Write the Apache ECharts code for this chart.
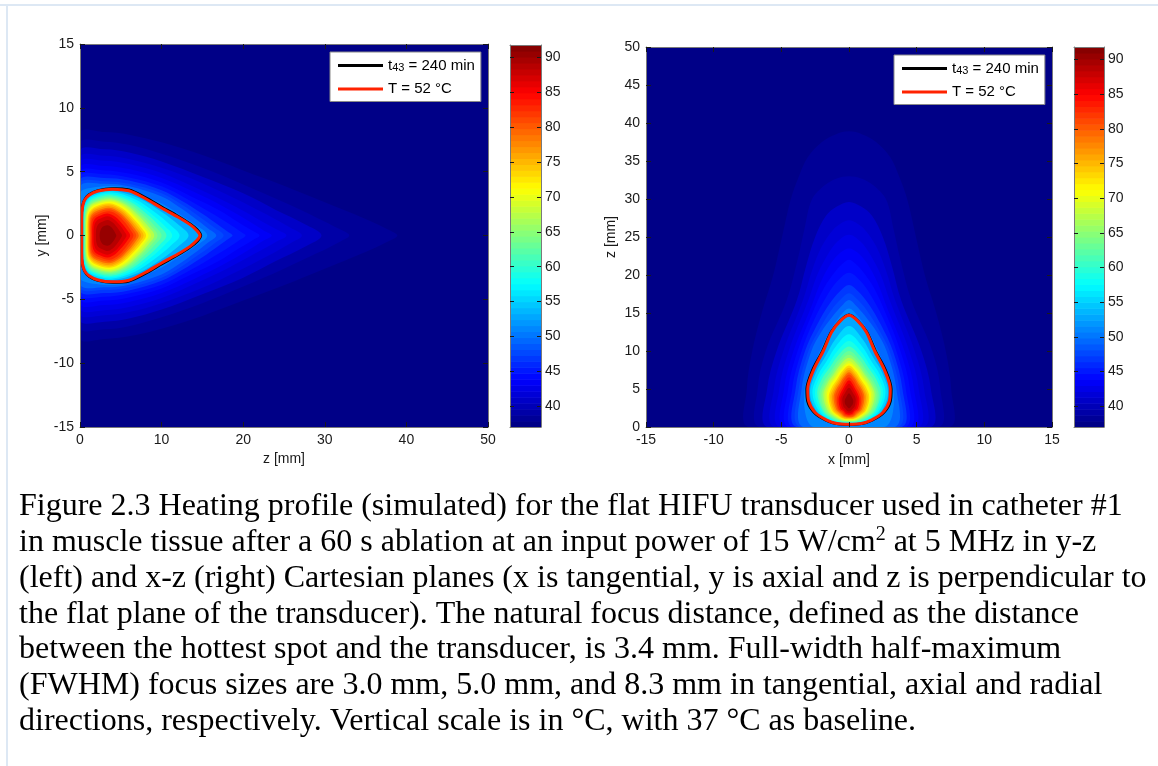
<!DOCTYPE html>
<html><head><meta charset="utf-8">
<script src="https://cdn.jsdelivr.net/npm/echarts@6/dist/echarts.min.js"></script>
<style>
html,body{margin:0;padding:0;background:#fff;}
#chart{position:absolute;left:0;top:0;width:1158px;height:766px;}
#bt{position:absolute;left:0;top:4px;width:1158px;height:2px;background:#dde8f4;}
#bl{position:absolute;left:6px;top:4px;width:2px;height:762px;background:#dde8f4;}
</style></head><body>
<div id="chart"></div>
<div id="bt"></div><div id="bl"></div>
<script>
// ---- colour scale (degrees C) ----
const colorMin = 37, colorMax = 91.8;
const colorTicks = [40, 45, 50, 55, 60, 65, 70, 75, 80, 85, 90];
// ---- isotherm levels (deg C) used for the filled contour plot ----
const levels = [38, 39, 40, 41, 42, 43, 44, 45, 46, 47, 48, 50, 52, 54, 56, 58, 60, 62, 64, 66, 68, 70, 72, 74, 76, 78, 80, 82, 84, 86, 88, 90];

// ---- contour lines, half contours [z, |offset|] in mm (fields are symmetric) ----
const leftRed    = [[0.22,0],[0.22,1.4],[0.3,2.2],[0.55,2.75],[1.1,3.15],[2.2,3.48],[4,3.63],[6,3.5],[8,2.9],[10,2.15],[12,1.45],[13.5,0.85],[14.3,0.4],[14.7,0]];
const leftBlack  = [[0.2,0],[0.2,1.4],[0.28,2.2],[0.53,2.78],[1.1,3.2],[2.2,3.53],[4,3.69],[6,3.58],[8,2.99],[10,2.25],[12,1.53],[13.5,0.92],[14.4,0.44],[14.82,0]];
const rightRed   = [[0.35,0],[0.45,0.9],[0.9,1.65],[1.9,2.5],[3.4,2.98],[5,3.05],[7.5,2.62],[10,1.9],[12.5,1.28],[14,0.62],[14.7,0]];
const rightBlack = [[0.33,0],[0.44,0.93],[0.88,1.7],[1.9,2.57],[3.4,3.07],[5,3.13],[7.5,2.7],[10,1.96],[12.5,1.32],[14,0.65],[14.76,0]];

// ---- y-z plane (left): half isotherms [z, y] for each level ----
const leftIso = [
  [[0,8.0],[3,8.1],[6,7.9],[10,7.3],[15,6.3],[20,5.1],[25,3.9],[30,2.6],[35,1.3],[38,0.4],[38.9,0]],
  [[0,7.2],[3,7.35],[6,7.1],[10,6.4],[15,5.3],[20,4.0],[25,2.6],[29,1.4],[31.8,0.5],[33,0]],
  [[0,6.6],[3,6.75],[6,6.5],[10,5.8],[15,4.6],[20,3.3],[24,2.0],[27.5,0.9],[29.6,0]],
  [[0,6.1],[3,6.25],[6,6.0],[10,5.3],[15,4.1],[19,2.9],[23,1.6],[25.8,0.6],[27.2,0]],
  [[0,5.7],[3,5.85],[6,5.6],[10,4.9],[14,3.8],[18,2.6],[21.5,1.4],[24,0.5],[25.3,0]],
  [[0,5.3],[3,5.45],[6,5.2],[10,4.5],[14,3.4],[17.5,2.3],[20.5,1.2],[22.5,0.4],[23.5,0]],
  [[0,4.95],[3,5.1],[6,4.85],[10,4.15],[13.5,3.1],[17,2.0],[19.5,1.0],[21.2,0.35],[22,0]],
  [[0,4.6],[3,4.8],[6,4.55],[10,3.85],[13,2.9],[16,1.8],[18.3,0.9],[19.7,0.3],[20.3,0]],
  [[0,4.3],[3,4.5],[6,4.3],[10,3.55],[12.5,2.7],[15,1.7],[17,0.8],[18.2,0.25],[18.7,0]],
  [[0,4.05],[3,4.25],[6,4.05],[10,3.3],[12.5,2.4],[14.8,1.4],[16.5,0.6],[17.6,0]],
  [[0,3.8],[3,4.05],[6,3.85],[10,3.05],[12,2.3],[14,1.4],[15.7,0.55],[16.7,0]],
  [[0,3.3],[0.5,3.6],[2,3.8],[4,3.88],[6,3.7],[8,3.1],[10,2.5],[12,1.75],[14,0.9],[15.6,0]],
  leftRed,
  [[0.3,0],[0.34,1.93],[0.65,2.66],[1.4,3.15],[3.8,3.5],[7.13,2.94],[9.98,1.86],[12.07,0.84],[13.3,0]],
  [[0.38,0],[0.42,1.86],[0.72,2.57],[1.45,3.04],[3.8,3.38],[6.74,2.84],[9.26,1.79],[11.11,0.81],[12.2,0]],
  [[0.45,0],[0.49,1.79],[0.78,2.48],[1.5,2.93],[3.8,3.26],[6.43,2.74],[8.68,1.73],[10.33,0.78],[11.3,0]],
  [[0.5,0],[0.54,1.73],[0.83,2.39],[1.55,2.84],[3.8,3.15],[6.18,2.65],[8.22,1.67],[9.72,0.76],[10.6,0]],
  [[0.57,0],[0.61,1.67],[0.9,2.31],[1.6,2.74],[3.8,3.04],[5.97,2.55],[7.83,1.61],[9.19,0.73],[10,0]],
  [[0.63,0],[0.67,1.62],[0.96,2.23],[1.66,2.65],[3.8,2.94],[5.8,2.47],[7.51,1.56],[8.76,0.71],[9.5,0]],
  [[0.7,0],[0.74,1.56],[1.03,2.16],[1.73,2.56],[3.8,2.84],[5.66,2.39],[7.25,1.51],[8.41,0.68],[9.1,0]],
  [[0.76,0],[0.8,1.51],[1.09,2.08],[1.79,2.47],[3.8,2.74],[5.52,2.3],[6.99,1.45],[8.06,0.66],[8.7,0]],
  [[0.83,0],[0.87,1.45],[1.16,2.01],[1.86,2.38],[3.8,2.64],[5.41,2.22],[6.79,1.4],[7.8,0.63],[8.4,0]],
  [[0.9,0],[0.94,1.39],[1.23,1.92],[1.93,2.28],[3.6,2.53],[5.18,2.13],[6.53,1.34],[7.52,0.61],[8.1,0]],
  [[0.97,0],[1.01,1.33],[1.3,1.84],[2.0,2.18],[3.6,2.42],[5.07,2.03],[6.33,1.28],[7.25,0.58],[7.8,0]],
  [[1.05,0],[1.09,1.27],[1.38,1.75],[2.08,2.07],[3.6,2.3],[4.97,1.93],[6.14,1.22],[6.99,0.55],[7.5,0]],
  [[1.14,0],[1.18,1.2],[1.47,1.66],[2.17,1.96],[3.6,2.18],[4.86,1.83],[5.94,1.16],[6.73,0.52],[7.2,0]],
  [[1.24,0],[1.28,1.13],[1.57,1.56],[2.27,1.85],[3.6,2.05],[4.76,1.72],[5.75,1.09],[6.47,0.49],[6.9,0]],
  [[1.36,0],[1.4,1.05],[1.69,1.44],[2.39,1.71],[3.6,1.9],[4.63,1.6],[5.52,1.01],[6.17,0.46],[6.55,0]],
  [[1.5,0],[1.55,0.9],[1.83,1.31],[2.43,1.55],[3.4,1.72],[4.36,1.44],[5.19,0.91],[5.79,0.41],[6.15,0]],
  [[1.68,0],[1.74,0.75],[2.03,1.14],[2.58,1.35],[3.4,1.5],[4.2,1.26],[4.9,0.8],[5.4,0.36],[5.7,0]],
  [[1.95,0],[2.02,0.58],[2.3,0.93],[2.8,1.1],[3.4,1.22],[4.01,1.02],[4.54,0.65],[4.92,0.29],[5.15,0]],
  [[2.4,0],[2.5,0.4],[2.75,0.66],[3.05,0.77],[3.4,0.8],[3.77,0.68],[4.08,0.45],[4.32,0.2],[4.45,0]]
];

// ---- x-z plane (right): half isotherms [z, x] for each level ----
const rightIso = [
  [[0,7.4],[5,7.55],[10,7.15],[15,6.45],[20,5.6],[25,4.95],[30,4.3],[33,3.7],[35.5,3.05],[37.5,2.0],[38.5,1.0],[38.9,0]],
  [[0,6.6],[5,6.75],[10,6.15],[16.7,4.6],[22,3.8],[26,3.3],[29.9,2.75],[31.8,1.8],[32.7,0.9],[33.0,0]],
  [[0,6.0],[5,6.05],[10,5.35],[16.7,3.85],[21,3.2],[25,2.5],[27.8,1.7],[29,0.9],[29.6,0]],
  [[0,5.5],[5,5.55],[10,4.85],[16.7,3.4],[20.5,2.75],[23.8,2.0],[25.9,1.2],[26.9,0.5],[27.2,0]],
  [[0,5.1],[5,5.15],[10,4.45],[16.7,3.0],[20,2.35],[22.6,1.6],[24.4,0.85],[25.3,0]],
  [[0,4.75],[5,4.8],[10,4.1],[16,2.75],[19,2.1],[21.5,1.35],[23,0.6],[23.5,0]],
  [[0,4.45],[5,4.5],[10,3.8],[15,2.7],[18.3,1.85],[20.5,1.0],[21.6,0.4],[22,0]],
  [[0,4.15],[5,4.2],[10,3.5],[14,2.6],[17.2,1.65],[19.2,0.85],[20.3,0]],
  [[0,3.9],[5,3.95],[10,3.25],[13.5,2.35],[16.2,1.45],[17.9,0.65],[18.7,0]],
  [[0,3.65],[5,3.72],[10,3.0],[13,2.15],[15.4,1.3],[16.9,0.55],[17.6,0]],
  [[0,3.4],[5,3.5],[10,2.78],[12.5,2.05],[14.7,1.15],[16.1,0.45],[16.7,0]],
  [[0,2.6],[0.6,3.0],[2,3.25],[4,3.32],[6,3.15],[8,2.6],[10,2.15],[12.5,1.45],[14.5,0.7],[15.6,0]],
  rightRed,
  [[0.42,0],[0.52,0.86],[0.92,1.58],[2.05,2.39],[4.5,2.88],[7.14,2.45],[9.34,1.73],[11.54,1.01],[13.3,0]],
  [[0.5,0],[0.6,0.81],[1.0,1.49],[2.1,2.24],[4.5,2.7],[6.81,2.3],[8.74,1.62],[10.66,0.95],[12.2,0]],
  [[0.56,0],[0.66,0.76],[1.06,1.39],[2.14,2.09],[4.5,2.52],[6.54,2.14],[8.24,1.51],[9.94,0.88],[11.3,0]],
  [[0.62,0],[0.72,0.71],[1.12,1.29],[2.17,1.95],[4.5,2.35],[6.33,2.0],[7.86,1.41],[9.38,0.82],[10.6,0]],
  [[0.68,0],[0.78,0.66],[1.18,1.21],[2.09,1.83],[4.2,2.2],[5.94,1.87],[7.39,1.32],[8.84,0.77],[10,0]],
  [[0.74,0],[0.84,0.62],[1.24,1.13],[2.12,1.7],[4.2,2.05],[5.79,1.74],[7.12,1.23],[8.44,0.72],[9.5,0]],
  [[0.8,0],[0.9,0.57],[1.3,1.05],[2.16,1.58],[4.2,1.9],[5.67,1.62],[6.9,1.14],[8.12,0.67],[9.1,0]],
  [[0.87,0],[0.97,0.53],[1.37,0.97],[2.2,1.46],[4.2,1.76],[5.55,1.5],[6.68,1.06],[7.8,0.62],[8.7,0]],
  [[0.94,0],[1.04,0.49],[1.44,0.9],[2.24,1.35],[4.2,1.63],[5.46,1.39],[6.51,0.98],[7.56,0.57],[8.4,0]],
  [[1.01,0],[1.11,0.45],[1.51,0.83],[2.17,1.25],[3.9,1.5],[5.16,1.28],[6.21,0.9],[7.26,0.53],[8.1,0]],
  [[1.09,0],[1.19,0.41],[1.59,0.76],[2.21,1.15],[3.9,1.38],[5.07,1.17],[6.05,0.83],[7.02,0.48],[7.8,0]],
  [[1.17,0],[1.27,0.38],[1.67,0.69],[2.26,1.05],[3.9,1.26],[4.98,1.07],[5.88,0.76],[6.78,0.44],[7.5,0]],
  [[1.26,0],[1.36,0.34],[1.76,0.63],[2.32,0.95],[3.9,1.14],[4.89,0.97],[5.72,0.68],[6.54,0.4],[7.2,0]],
  [[1.36,0],[1.46,0.31],[1.86,0.56],[2.38,0.85],[3.9,1.02],[4.8,0.87],[5.55,0.61],[6.3,0.36],[6.9,0]],
  [[1.48,0],[1.58,0.27],[1.98,0.5],[2.33,0.75],[3.6,0.9],[4.49,0.77],[5.22,0.54],[5.96,0.32],[6.55,0]],
  [[1.62,0],[1.72,0.23],[2.1,0.42],[2.41,0.64],[3.6,0.77],[4.37,0.65],[5.0,0.46],[5.64,0.27],[6.15,0]],
  [[1.8,0],[1.9,0.19],[2.2,0.35],[2.52,0.53],[3.6,0.64],[4.23,0.54],[4.76,0.38],[5.28,0.22],[5.7,0]],
  [[2.05,0],[2.15,0.15],[2.4,0.27],[2.67,0.41],[3.6,0.5],[4.07,0.43],[4.45,0.3],[4.84,0.18],[5.15,0]],
  [[2.45,0],[2.55,0.1],[2.75,0.18],[2.95,0.27],[3.4,0.32],[3.72,0.27],[3.98,0.19],[4.24,0.11],[4.45,0]]
];

const captionLines = [
  'Figure 2.3 Heating profile (simulated) for the flat HIFU transducer used in catheter #1',
  ['in muscle tissue after a 60 s ablation at an input power of 15 W/cm', '2', ' at 5 MHz in y-z'],
  '(left) and x-z (right) Cartesian planes (x is tangential, y is axial and z is perpendicular to',
  'the flat plane of the transducer). The natural focus distance, defined as the distance',
  'between the hottest spot and the transducer, is 3.4 mm. Full-width half-maximum',
  '(FWHM) focus sizes are 3.0 mm, 5.0 mm, and 8.3 mm in tangential, axial and radial',
  'directions, respectively. Vertical scale is in °C, with 37 °C as baseline.'
];

const NAME_T43 = 't43 = 240 min', NAME_T52 = 'T = 52 °C';
const FONT = '"Liberation Sans", Arial, sans-serif';

// jet colormap (64 steps)
function jet(v) {
  let t = (v - colorMin) / (colorMax - colorMin);
  t = Math.max(0, Math.min(1, t));
  const idx = Math.min(63, Math.floor(t * 64));
  t = (idx + 0.5) / 64;
  const c = x => Math.round(255 * Math.max(0, Math.min(1, x)));
  const r = c(Math.min(4 * t - 1.5, -4 * t + 4.5));
  const g = c(Math.min(4 * t - 0.5, -4 * t + 3.5));
  const b = c(Math.min(4 * t + 0.5, -4 * t + 2.5));
  return 'rgb(' + r + ',' + g + ',' + b + ')';
}
function fillValue(i) {
  if (i < 0) return (colorMin + levels[0]) / 2;
  const next = i < levels.length - 1 ? levels[i + 1] : colorMax;
  return (levels[i] + next) / 2;
}
// full closed loop from a symmetric half contour
function loop(half) {
  const other = half.filter(p => p[1] !== 0).reverse().map(p => [p[0], -p[1]]);
  return half.concat(other);
}
function closedLine(half, swap) {
  const pts = loop(half);
  pts.push(pts[0]);
  return pts.map(p => swap ? [p[1], p[0]] : [p[0], p[1]]);
}
function fillSeries(iso, swap, xi, yi, ext) {
  const data = [-1].concat(levels.map((l, i) => i)).map(i => ({ value: [0, 0, i] }));
  return {
    type: 'custom', xAxisIndex: xi, yAxisIndex: yi, clip: true, silent: true, z: 1,
    data: data,
    renderItem: function (params, api) {
      const i = data[params.dataIndex].value[2];
      let pts;
      if (i < 0) {
        pts = [[ext[0], ext[2]], [ext[1], ext[2]], [ext[1], ext[3]], [ext[0], ext[3]]].map(p => api.coord(p));
        return { type: 'polygon', shape: { points: pts }, style: { fill: jet(fillValue(i)) } };
      }
      pts = loop(iso[i]).map(p => api.coord(swap ? [p[1], p[0]] : [p[0], p[1]]));
      return { type: 'polygon', shape: { points: pts, smooth: 0.35 }, style: { fill: jet(fillValue(i)) } };
    }
  };
}
function colorbarSeries(xi, yi) {
  const n = 64, step = (colorMax - colorMin) / n;
  const data = [];
  for (let k = 0; k < n; k++) data.push({ value: [0, colorMin + k * step] });
  return {
    type: 'custom', xAxisIndex: xi, yAxisIndex: yi, silent: true, z: 1, clip: true,
    data: data,
    renderItem: function (params, api) {
      const v0 = colorMin + params.dataIndex * step;
      const p0 = api.coord([0, v0]);
      const p1 = api.coord([1, v0 + step]);
      return { type: 'rect', shape: { x: p0[0], y: p1[1], width: p1[0] - p0[0], height: p0[1] - p1[1] + 0.6 },
               style: { fill: jet(v0 + step / 2) } };
    }
  };
}
function lineSeries(name, half, swap, xi, yi, color, width, z) {
  return {
    type: 'line', name: name, xAxisIndex: xi, yAxisIndex: yi, data: closedLine(half, swap),
    smooth: 0.3, symbol: 'none', color: color, lineStyle: { color: color, width: width }, z: z, silent: true
  };
}
const axisLine = { show: true, onZero: false, lineStyle: { color: '#7a7a7a', width: 1 } };
const tickIn = { show: true, inside: true, length: 5, lineStyle: { color: '#1a1a1a', width: 1 } };
const lbl = { fontSize: 14, color: '#1a1a1a', fontFamily: FONT, margin: 6 };
function valAxis(o) {
  return Object.assign({ type: 'value', splitLine: { show: false }, axisLine: axisLine, axisTick: tickIn,
    axisLabel: lbl, z: 6, nameTextStyle: { fontSize: 14, color: '#1a1a1a', fontFamily: FONT } }, o);
}
function plainAxis(o) {
  return Object.assign({ type: 'value', splitLine: { show: false }, axisLine: axisLine, axisTick: { show: false },
    axisLabel: { show: false }, z: 6 }, o);
}
function cbarAxis(o, labels) {
  return Object.assign({ type: 'value', min: colorMin, max: colorMax, splitLine: { show: false }, axisLine: axisLine,
    axisTick: { show: true, inside: true, length: 4, customValues: colorTicks, lineStyle: { color: '#1a1a1a' } },
    axisLabel: labels ? { show: true, customValues: colorTicks, fontSize: 14, color: '#1a1a1a', fontFamily: FONT, margin: 4 } : { show: false },
    z: 6 }, o);
}
function legendOf(left, top) {
  return {
    left: left, top: top, orient: 'vertical', itemWidth: 45, itemHeight: 3, itemGap: 8,
    padding: [6, 6, 5, 8], backgroundColor: '#fff', borderColor: '#8a8a8a', borderWidth: 1, borderRadius: 0,
    selectedMode: false, z: 20,
    data: [{ name: NAME_T43, icon: 'rect', itemStyle: { color: '#000' } },
           { name: NAME_T52, icon: 'rect', itemStyle: { color: '#ff2200' } }],
    formatter: function (name) {
      return name === NAME_T43 ? '{a|t}{s|43}{a| = 240 min}' : '{a|' + name + '}';
    },
    textStyle: { fontFamily: FONT, color: '#000', fontSize: 15,
      rich: { a: { fontFamily: FONT, fontSize: 15, lineHeight: 16, color: '#000' },
              s: { fontFamily: FONT, fontSize: 11, lineHeight: 6, verticalAlign: 'bottom', color: '#000' } } }
  };
}
const serif = '"Liberation Serif", "Times New Roman", serif';
const captionGraphics = captionLines.map((ln, i) => {
  const y = 507 + i * 35.75;
  if (Array.isArray(ln)) {
    return { type: 'text', x: 19, y: y, silent: true,
      style: { text: '{n|' + ln[0] + '}{p|' + ln[1] + '}{n|' + ln[2] + '}', verticalAlign: 'middle', fill: '#000',
        rich: { n: { fontFamily: serif, fontSize: 32, lineHeight: 36, fill: '#000', color: '#000' },
                p: { fontFamily: serif, fontSize: 20, lineHeight: 20, verticalAlign: 'top', fill: '#000', color: '#000' } } } };
  }
  return { type: 'text', x: 19, y: y, silent: true,
    style: { text: ln, fontFamily: serif, fontSize: 32, fill: '#000', verticalAlign: 'middle' } };
});

const chart = echarts.init(document.getElementById('chart'), null, { renderer: 'canvas' });
chart.setOption({
  animation: false,
  backgroundColor: '#fff',
  textStyle: { fontFamily: FONT },
  grid: [
    { left: 80, top: 44, width: 408, height: 383 },
    { left: 510, top: 45, width: 31, height: 382 },
    { left: 646, top: 47, width: 406, height: 380 },
    { left: 1074, top: 47, width: 30, height: 380 }
  ],
  xAxis: [
    valAxis({ gridIndex: 0, min: 0, max: 50, interval: 10, position: 'bottom', name: 'z [mm]', nameLocation: 'middle', nameGap: 25 }),
    valAxis({ gridIndex: 0, min: 0, max: 50, interval: 10, position: 'top', axisLabel: { show: false } }),
    plainAxis({ gridIndex: 1, min: 0, max: 1, position: 'bottom' }),
    plainAxis({ gridIndex: 1, min: 0, max: 1, position: 'top' }),
    valAxis({ gridIndex: 2, min: -15, max: 15, interval: 5, position: 'bottom', name: 'x [mm]', nameLocation: 'middle', nameGap: 26 }),
    valAxis({ gridIndex: 2, min: -15, max: 15, interval: 5, position: 'top', axisLabel: { show: false } }),
    plainAxis({ gridIndex: 3, min: 0, max: 1, position: 'bottom' }),
    plainAxis({ gridIndex: 3, min: 0, max: 1, position: 'top' })
  ],
  yAxis: [
    valAxis({ gridIndex: 0, min: -15, max: 15, interval: 5, position: 'left', name: 'y [mm]', nameLocation: 'middle', nameGap: 31 }),
    valAxis({ gridIndex: 0, min: -15, max: 15, interval: 5, position: 'right', axisLabel: { show: false } }),
    cbarAxis({ gridIndex: 1, position: 'right' }, true),
    cbarAxis({ gridIndex: 1, position: 'left' }, false),
    valAxis({ gridIndex: 2, min: 0, max: 50, interval: 5, position: 'left', name: 'z [mm]', nameLocation: 'middle', nameGap: 28 }),
    valAxis({ gridIndex: 2, min: 0, max: 50, interval: 5, position: 'right', axisLabel: { show: false } }),
    cbarAxis({ gridIndex: 3, position: 'right' }, true),
    cbarAxis({ gridIndex: 3, position: 'left' }, false)
  ],
  legend: [legendOf(330, 52), legendOf(894, 55)],
  graphic: captionGraphics,
  series: [
    fillSeries(leftIso, false, 0, 0, [0, 50, -15, 15]),
    lineSeries(NAME_T43, leftBlack, false, 0, 0, '#000000', 2.5, 3),
    lineSeries(NAME_T52, leftRed, false, 0, 0, '#ff2200', 3, 4),
    colorbarSeries(2, 2),
    fillSeries(rightIso, true, 4, 4, [-15, 15, 0, 50]),
    lineSeries(NAME_T43, rightBlack, true, 4, 4, '#000000', 2.5, 3),
    lineSeries(NAME_T52, rightRed, true, 4, 4, '#ff2200', 3, 4),
    colorbarSeries(6, 6)
  ]
});
</script>
</body></html>
